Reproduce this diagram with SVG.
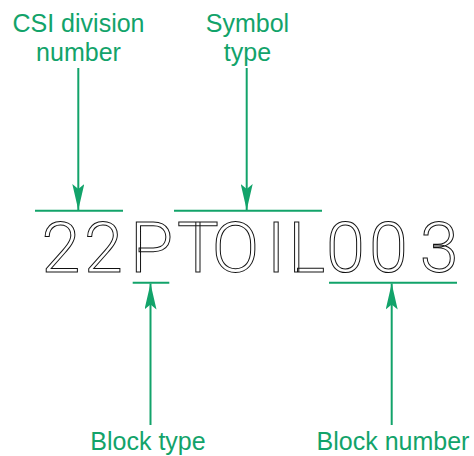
<svg xmlns="http://www.w3.org/2000/svg" width="474" height="456" viewBox="0 0 474 456">
<style>
.lbl{font-family:"Liberation Sans",Arial,sans-serif;font-size:25px;fill:#12a36a;text-anchor:middle}
.ln{stroke:#12a36a;stroke-width:2;fill:none}
.code{font-family:Roboto,"Liberation Sans",sans-serif;font-weight:300;font-size:70px;fill:#fff;stroke:#111;stroke-width:1;text-anchor:middle}
</style>
<defs>
<marker id="ah" viewBox="0 0 26 12" refX="26" refY="6" markerWidth="26" markerHeight="12" markerUnits="userSpaceOnUse" orient="auto">
<path d="M0,0 L26,6 L0,12 L5,6 Z" fill="#12a36a"/>
</marker>
</defs>
<rect width="474" height="456" fill="#fff"/>
<g id="code">
<text class="code" x="60.8 103.3 151.5 197.8 235.5 276 306.7 345.5 388.3 439.2" y="271.7">22PTOIL003</text>
</g>
<g id="csi">
<text class="lbl" x="78.5" y="31.5">CSI division</text>
<text class="lbl" x="78.5" y="61">number</text>
</g>
<g id="symbol">
<text class="lbl" x="247.5" y="31.5">Symbol</text>
<text class="lbl" x="247.5" y="61">type</text>
</g>
<g id="blocktype">
<text class="lbl" x="148" y="450">Block type</text>
</g>
<g id="blocknumber">
<text class="lbl" x="393" y="450">Block number</text>
</g>
<g id="connectors">
<line class="ln" x1="35" y1="210.7" x2="123" y2="210.7"/>
<line class="ln" x1="174" y1="210.7" x2="322" y2="210.7"/>
<line class="ln" x1="132.7" y1="282.7" x2="169.3" y2="282.7"/>
<line class="ln" x1="329" y1="282.7" x2="457" y2="282.7"/>
<line class="ln" x1="78.3" y1="68" x2="78.3" y2="210" marker-end="url(#ah)"/>
<line class="ln" x1="246.7" y1="68" x2="246.7" y2="210" marker-end="url(#ah)"/>
<line class="ln" x1="150.5" y1="425" x2="150.5" y2="283.5" marker-end="url(#ah)"/>
<line class="ln" x1="391.7" y1="425" x2="391.7" y2="283.5" marker-end="url(#ah)"/>
</g>
</svg>
